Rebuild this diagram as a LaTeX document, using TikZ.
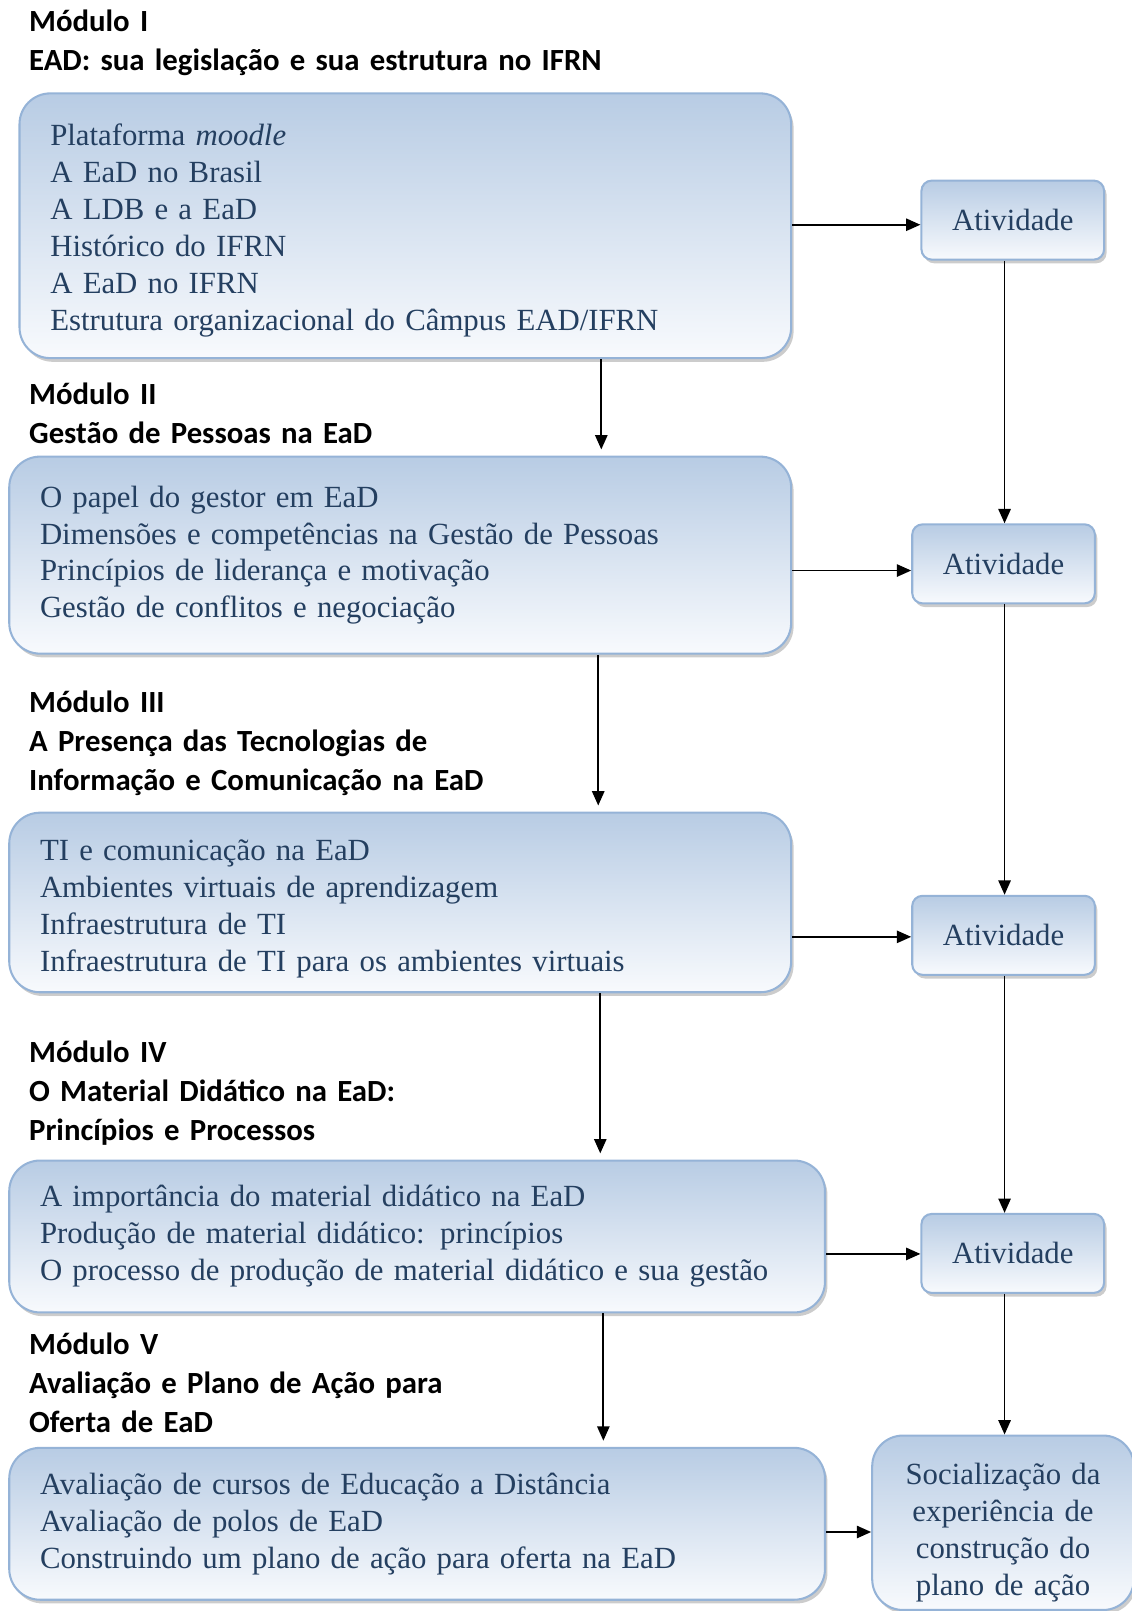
\documentclass[tikz,border=0pt]{standalone}
\usepackage{fontspec}
\setmainfont{Liberation Serif}
\newfontfamily\headfont{Carlito}
\usepackage{tikz}
\usetikzlibrary{positioning, shadows, arrows.meta}
\definecolor{boxtop}{HTML}{B8CCE4}
\definecolor{boxbot}{HTML}{F8FAFD}
\definecolor{boxline}{HTML}{95B3D7}
\definecolor{boxtext}{HTML}{243F60}

\begin{document}
\begin{tikzpicture}[x=0.5pt, y=-0.5pt,
          bx/.style={draw=boxline, line width=1pt, top color=boxtop, bottom color=boxbot, text=boxtext,
            drop shadow={shadow xshift=1.2pt, shadow yshift=-1.8pt, fill=black!40},
            font=\fontsize{15}{18}\selectfont},
          mod/.style={bx, anchor=north west, rounded corners=15pt, align=left, inner xsep=15pt},
          atv/.style={bx, anchor=north west, rounded corners=5pt, minimum width=89pt, minimum height=38.5pt},
          hd/.style={anchor=base west, inner sep=0pt, text width=320pt, align=left,
            font=\headfont\bfseries\fontsize{15}{19}\selectfont},
          arr/.style={-{Triangle[length=7pt,width=6pt]}, line width=0.9pt}
        ]
        \useasboundingbox (0,0) rectangle (1103,1570);
        \node[hd] (h1) at (28,31) {Módulo I\\EAD: sua legislação e sua estrutura no IFRN};
        \node[hd] (h2) at (28,394) {Módulo II\\Gestão de Pessoas na EaD};
        \node[hd] (h3) at (28,694) {Módulo III\\A Presença das Tecnologias de\\Informação e Comunicação na EaD};
        \node[hd] (h4) at (28,1035) {Módulo IV\\O Material Didático na EaD:\\Princípios e Processos};
        \node[hd] (h5) at (28,1320) {Módulo V\\Avaliação e Plano de Ação para\\Oferta de EaD};
        \node[mod, text width=346pt, minimum height=129pt] (m1) at (18,90)
          {\rule{0pt}{15pt}Plataforma \textit{moodle}\\A EaD no Brasil\\A LDB e a EaD\\Histórico do IFRN\\A EaD no IFRN\\Estrutura organizacional do Câmpus EAD/IFRN};
        \node[mod, text width=351pt, minimum height=96pt] (m2) at (8,444)
          {O papel do gestor em EaD\\Dimensões e competências na Gestão de Pessoas\\Princípios de liderança e motivação\\Gestão de conflitos e negociação};
        \node[mod, text width=351pt, minimum height=87.5pt] (m3) at (8,791)
          {\rule{0pt}{16pt}TI e comunicação na EaD\\Ambientes virtuais de aprendizagem\\Infraestrutura de TI\\Infraestrutura de TI para os ambientes virtuais};
        \node[mod, text width=367.5pt, minimum height=74pt] (m4) at (8,1130)
          {A importância do material didático na EaD\\Produção de material didático: princípios\\O processo de produção de material didático e sua gestão};
        \node[mod, text width=367.5pt, minimum height=74pt] (m5) at (8,1410)
          {Avaliação de cursos de Educação a Distância\\Avaliação de polos de EaD\\Construindo um plano de ação para oferta na EaD};
        \node[atv] (a1) at (897,175) {Atividade};
        \node[atv] (a2) at (888,510) {Atividade};
        \node[atv] (a3) at (888,872) {Atividade};
        \node[atv] (a4) at (897,1182) {Atividade};
        \node[bx, anchor=north west, rounded corners=15pt, align=center, inner xsep=2pt,
          text width=123.5pt, minimum height=85pt] (soc) at (849,1398)
          {\rule{0pt}{20pt}Socialização da\\experiência de\\construção do\\plano de ação};
        \foreach \a/\b/\x in {m1/m2/586, m2/m3/583, m3/m4/585, m4/m5/588}
          {\draw[arr, shorten >=3pt] (\a.south -| \x,0) -- (\b.north -| \x,0);}
        \foreach \a/\b/\y in {m1/a1/219, m2/a2/556, m3/a3/913, m4/a4/1222, m5/soc/1493}
          {\draw[arr] (\a.east |- 0,\y) -- (\b.west |- 0,\y);}
        \foreach \a/\b in {a1/a2, a2/a3, a3/a4, a4/soc}
          {\draw[arr] (\a.south -| 979,0) -- (\b.north -| 979,0);}
      \end{tikzpicture}
\end{document}
